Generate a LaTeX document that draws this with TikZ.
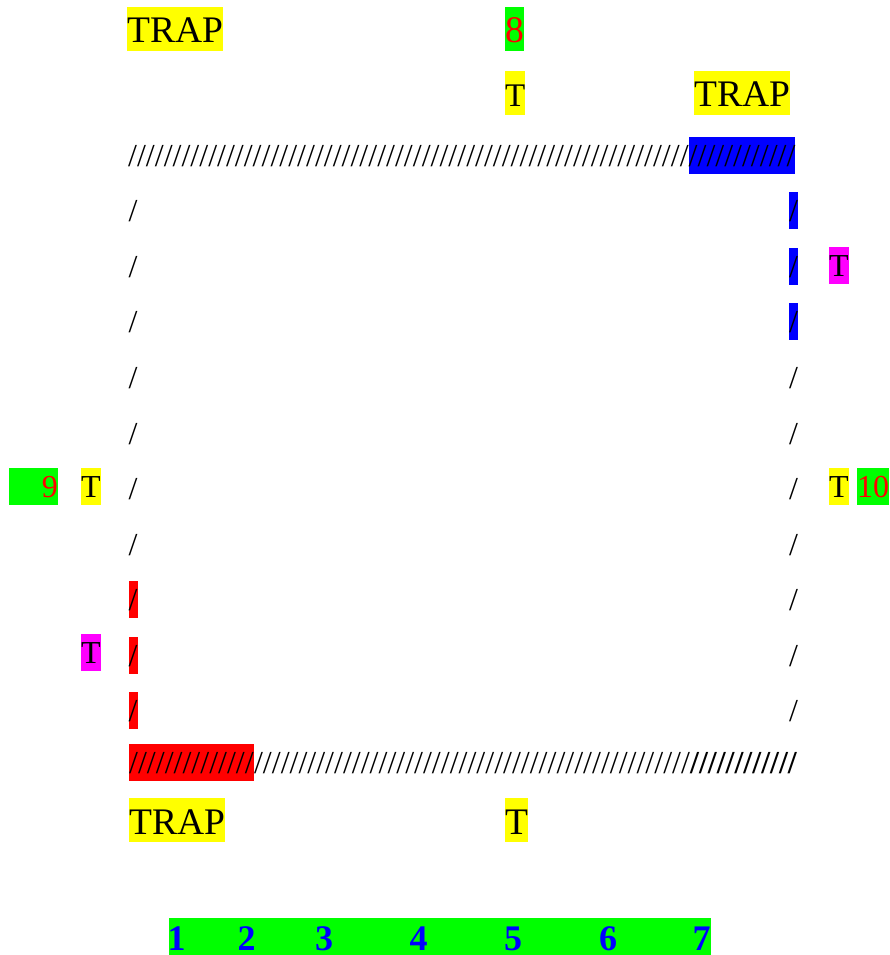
\documentclass[tikz,border=0pt]{standalone}
\usepackage{fontspec}
\setmainfont{Liberation Serif}
\usetikzlibrary{positioning}
\definecolor{trapyellow}{RGB}{255,255,0}
\definecolor{numgreen}{RGB}{0,255,0}
\definecolor{numred}{RGB}{255,0,0}
\definecolor{trapblue}{RGB}{0,0,255}
\definecolor{trapmagenta}{RGB}{255,0,255}
\newcommand{\slashrun}[1]{\foreach \s in {1,...,#1}{/}}

\begin{document}
\begin{tikzpicture}[x=1pt,y=-1pt,inner sep=0pt,node distance=18.18pt]
 \tikzstyle{big}=[font=\fontsize{37.5}{44}\selectfont,text height=36pt,text depth=8pt,anchor=base west]
 \tikzstyle{cell}=[font=\fontsize{32}{37}\selectfont,text height=29.5pt,text depth=7.5pt,anchor=base west]
 \tikzstyle{digit}=[font=\fontsize{36}{44}\selectfont\bfseries,text=trapblue,text height=26pt,text depth=0pt,anchor=base]
 \useasboundingbox (0,0) rectangle (890,955);

   % labels above the track
   \node[big,fill=trapyellow] (trapa) at (127,43) {TRAP};
   \node[big,fill=numgreen,text=numred] (eight) at (505,43) {8};
   \node[big,fill=trapyellow,font=\fontsize{33}{44}\selectfont] (ttop) at (505,107) {T};
   \node[big,fill=trapyellow] (trapb) at (694,107) {TRAP};

   % top row
   \node[cell] (top) at (128,166.5) {\slashrun{63}};
   \node[cell,fill=trapblue] (topb) at (top.base east) {\slashrun{12}};

   % left column
   \node[cell] (l1) at (128.5,221.7) {/};
   \node[cell] (l2) [below=of l1] {/};
   \node[cell] (l3) [below=of l2] {/};
   \node[cell] (l4) [below=of l3] {/};
   \node[cell] (l5) [below=of l4] {/};
   \node[cell] (l6) [below=of l5] {/};
   \node[cell] (l7) [below=of l6] {/};
   \node[cell,fill=numred] (l8) [below=of l7] {/};
   \node[cell,fill=numred] (l9) [below=of l8] {/};
   \node[cell,fill=numred] (l10) [below=of l9] {/};

   % right column
   \node[cell,fill=trapblue] (r1) at (789,221.7) {/};
   \node[cell,fill=trapblue] (r2) [below=of r1] {/};
   \node[cell,fill=trapblue] (r3) [below=of r2] {/};
   \node[cell] (r4) [below=of r3] {/};
   \node[cell] (r5) [below=of r4] {/};
   \node[cell] (r6) [below=of r5] {/};
   \node[cell] (r7) [below=of r6] {/};
   \node[cell] (r8) [below=of r7] {/};
   \node[cell] (r9) [below=of r8] {/};
   \node[cell] (r10) [below=of r9] {/};

   % bottom row
   \node[cell,fill=numred] (botr) at (129,773.5) {\slashrun{14}};
   \node[cell] (bot) at (botr.base east) {\slashrun{49}};
   \node[cell,font=\fontsize{32}{37}\selectfont\bfseries] (botb) at (bot.base east) {\slashrun{12}};

   % side labels
   \node[cell,fill=trapmagenta] (tr) at (829,276.9) {T};
   \node[cell,fill=numgreen,text=numred,text width=49pt,align=right,anchor=base east] (nine) at (58,497.6) {9};
   \node[cell,fill=trapyellow] (tl) at (81,497.6) {T};
   \node[cell,fill=trapyellow] (tr2) at (829,497.6) {T};
   \node[cell,fill=numgreen,text=numred] (ten) at (857,497.6) {10};
   \node[cell,fill=trapmagenta] (tl2) at (81,663.1) {T};

   % labels below the track
   \node[big,fill=trapyellow] (trapc) at (129,834) {TRAP};
   \node[big,fill=trapyellow] (tbot) at (505,834) {T};

   % numbers
   \node[fill=numgreen,minimum width=542pt,minimum height=37pt,anchor=north west] (bar) at (169,918) {};
   \node[digit] (d1) at (176.5,950) {1};
   \node[digit] (d2) at (246.5,950) {2};
   \node[digit] (d3) at (324,950) {3};
   \node[digit] (d4) at (418.5,950) {4};
   \node[digit] (d5) at (513,950) {5};
   \node[digit] (d6) at (608,950) {6};
   \node[digit] (d7) at (701.5,950) {7};
\end{tikzpicture}
\end{document}
